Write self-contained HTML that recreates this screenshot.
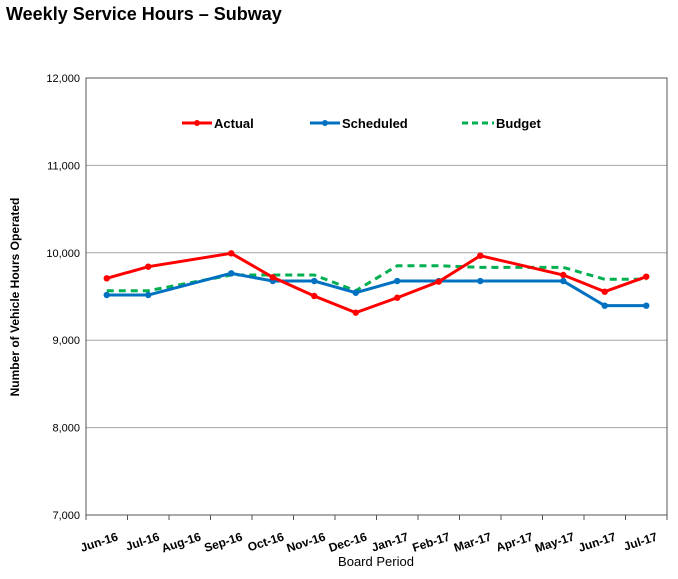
<!DOCTYPE html>
<html><head><meta charset="utf-8"><style>
body{margin:0;background:#fff;font-family:"Liberation Sans",Arial,sans-serif}
svg text{font-family:"Liberation Sans",Arial,sans-serif}
</style></head><body>
<svg width="678" height="574">
<text x="6" y="20" font-size="18" font-weight="bold">Weekly Service Hours – Subway</text>
<g id="grid"></g><g id="series"></g><g id="axes"></g>
<g>
<g><line x1="182" y1="123" x2="212" y2="123" stroke="#ff0000" stroke-width="3"/><circle cx="197" cy="123" r="3" fill="#ff0000"/><text x="214" y="128" font-size="13" font-weight="bold">Actual</text></g>
<g><line x1="310" y1="123" x2="340" y2="123" stroke="#0070c0" stroke-width="3"/><circle cx="325" cy="123" r="3" fill="#0070c0"/><text x="342" y="128" font-size="13" font-weight="bold">Scheduled</text></g>
<g><line x1="462" y1="123" x2="494" y2="123" stroke="#00b050" stroke-width="3" stroke-dasharray="6,4"/><text x="496" y="128" font-size="13" font-weight="bold">Budget</text></g>
</g>
<text x="0" y="0" transform="translate(19,297) rotate(-90)" text-anchor="middle" font-size="12" font-weight="bold">Number of Vehicle Hours Operated</text>
<text x="376" y="566" text-anchor="middle" font-size="13">Board Period</text>
</svg>
<script>
const categories=["Jun-16","Jul-16","Aug-16","Sep-16","Oct-16","Nov-16","Dec-16","Jan-17","Feb-17","Mar-17","Apr-17","May-17","Jun-17","Jul-17"];
const actual=[9708,9841,null,9994,9720,9506,9315,9486,9670,9967,null,9746,9555,9727];
const scheduled=[9517,9517,null,9765,9677,9677,9543,9677,9677,9677,null,9677,9395,9395];
const budget=[9566,9566,null,9746,9746,9746,9566,9852,9852,9833,null,9833,9697,9697];
const yTicks=[7000,8000,9000,10000,11000,12000];
const L=86,R=667,T=78,B=515,yMin=7000,yMax=12000;
const NS="http://www.w3.org/2000/svg";
const bw=(R-L)/categories.length;
const x=i=>L+bw*(i+0.5);
const y=v=>B-(v-yMin)/(yMax-yMin)*(B-T);
function mk(t,a,p){const e=document.createElementNS(NS,t);for(const k in a)e.setAttribute(k,a[k]);p.appendChild(e);return e;}
const grid=document.getElementById('grid'),axes=document.getElementById('axes'),ser=document.getElementById('series');
yTicks.forEach(v=>{
 const g=mk('line',{x1:L,x2:R,y1:y(v),y2:y(v),stroke:'#a6a6a6','stroke-width':1},grid);
 
 
 const t=mk('text',{x:L-6,y:y(v)+4,'text-anchor':'end','font-size':11},axes);
 t.textContent=v.toLocaleString('en-US');
 
 
});
const fr=mk('rect',{x:L,y:T,width:R-L,height:B-T,fill:'none',stroke:'#555','stroke-width':1},axes);


for(let i=0;i<=categories.length;i++){mk('line',{x1:L+bw*i,x2:L+bw*i,y1:B,y2:B+5,stroke:'#555'},axes);}
categories.forEach((c,i)=>{
 const t=mk('text',{transform:`translate(${x(i)+12},${B+25}) rotate(-18)`,'text-anchor':'end','font-size':12,'font-weight':'bold'},axes);
 t.textContent=c;
 
 
});
function series(vals,color,dash,markers,name){
 const pts=[];vals.forEach((v,i)=>{if(v!=null)pts.push([x(i),y(v)]);});
 const p=mk('polyline',{points:pts.map(p=>p.join(',')).join(' '),fill:'none',stroke:color,'stroke-width':3,'stroke-dasharray':dash||'none'},ser);
 
 
 if(markers)pts.forEach(q=>{const c=mk('circle',{cx:q[0],cy:q[1],r:3.2,fill:color},ser);
  
  });
}
series(budget,'#00b050','7,5',false,'budget');
series(scheduled,'#0070c0',null,true,'scheduled');
series(actual,'#ff0000',null,true,'actual');
</script>
</body></html>
